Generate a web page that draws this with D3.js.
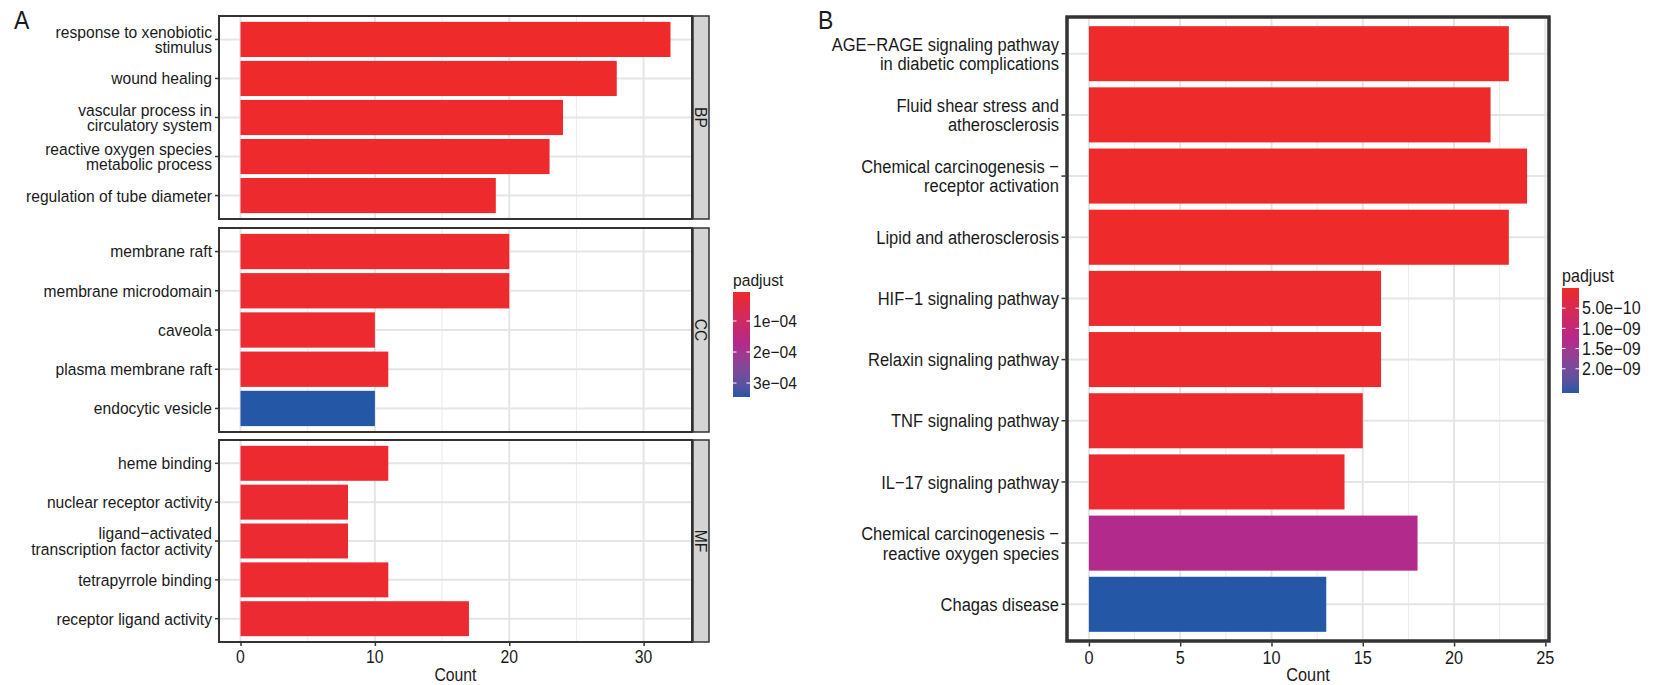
<!DOCTYPE html>
<html>
<head>
<meta charset="utf-8">
<script src="https://cdn.jsdelivr.net/npm/d3@7"></script>
<style>
  body { margin: 0; background: #fff; }
  text { font-family: "Liberation Sans", Arial, sans-serif; fill: #1a1a1a; }
</style>
</head>
<body>
<script>
// ---- panel A data (GO enrichment) ----
var goOntology = ["BP","BP","BP","BP","BP","CC","CC","CC","CC","CC","MF","MF","MF","MF","MF"];
var goTerms = [
  "response to xenobiotic\nstimulus", "wound healing", "vascular process in\ncirculatory system",
  "reactive oxygen species\nmetabolic process", "regulation of tube diameter",
  "membrane raft", "membrane microdomain", "caveola", "plasma membrane raft", "endocytic vesicle",
  "heme binding", "nuclear receptor activity", "ligand\u2212activated\ntranscription factor activity",
  "tetrapyrrole binding", "receptor ligand activity"
];
var goCounts = [32, 28, 24, 23, 19, 20, 20, 10, 11, 10, 11, 8, 8, 11, 17];
var goPadj = [6.5e-6, 7e-6, 8e-6, 8e-6, 9e-6, 1.0e-5, 1.0e-5, 1.2e-5, 1.3e-5, 3.45e-4, 1.4e-5, 1.5e-5, 1.5e-5, 1.4e-5, 1.6e-5];
var goFacets = ["BP", "CC", "MF"];
var goLegendTicks = [1e-4, 2e-4, 3e-4];
var goLegendLabels = ["1e\u221204", "2e\u221204", "3e\u221204"];

// ---- panel B data (KEGG) ----
var keggTerms = [
  "AGE\u2212RAGE signaling pathway\nin diabetic complications", "Fluid shear stress and\natherosclerosis",
  "Chemical carcinogenesis \u2212\nreceptor activation", "Lipid and atherosclerosis",
  "HIF\u22121 signaling pathway", "Relaxin signaling pathway", "TNF signaling pathway",
  "IL\u221217 signaling pathway", "Chemical carcinogenesis \u2212\nreactive oxygen species", "Chagas disease"
];
var keggCounts = [23, 22, 24, 23, 16, 16, 15, 14, 18, 13];
var keggPadj = [1e-12, 2e-12, 3e-12, 5e-12, 2e-11, 2.5e-11, 3e-11, 4e-11, 1.3e-9, 2.6e-9];
var keggLegendTicks = [5e-10, 1e-9, 1.5e-9, 2e-9];
var keggLegendLabels = ["5.0e\u221210", "1.0e\u221209", "1.5e\u221209", "2.0e\u221209"];

var RED = "#ee2a2b", PURPLE = "#b22a8c", BLUE = "#2557a7";

var svg = d3.select("body").append("svg").attr("width", 1655).attr("height", 685);

// text helper: horizontally condensed, multi-line, vertically centred on y
function label(x, y, str, size, sx, lh, anchor) {
  var lines = str.split("\n");
  var t = svg.append("text")
    .attr("transform", "translate(" + x + "," + y + ") scale(" + sx + ",1)")
    .attr("text-anchor", anchor)
    .style("font-size", size + "px");
  lines.forEach(function(l, i) {
    t.append("tspan").attr("x", 0)
      .attr("y", (i - (lines.length - 1) / 2) * lh + size * 0.35)
      .text(l);
  });
  return t;
}

function colorScale(lo, hi) {
  return d3.scaleLinear().domain([lo, (lo + hi) / 2, hi]).range([RED, PURPLE, BLUE]).interpolate(d3.interpolateLab);
}

function legend(id, x, top, bottom, lo, hi, ticks, labels, color, fs) {
  label(x, top - 12, "padjust", fs, 0.92, 0, "start");
  var grad = svg.append("defs").append("linearGradient").attr("id", id)
    .attr("x1", 0).attr("y1", 0).attr("x2", 0).attr("y2", 1);
  d3.range(0, 1.0001, 0.1).forEach(function(f) {
    grad.append("stop").attr("offset", f).attr("stop-color", color(lo + f * (hi - lo)));
  });
  svg.append("rect").attr("x", x).attr("y", top).attr("width", 17).attr("height", bottom - top)
    .attr("fill", "url(#" + id + ")");
  var ly = d3.scaleLinear().domain([lo, hi]).range([top, bottom]);
  ticks.forEach(function(v, i) {
    var y = ly(v);
    svg.append("line").attr("x1", x).attr("x2", x + 3.5).attr("y1", y).attr("y2", y).attr("stroke", "#fff");
    svg.append("line").attr("x1", x + 13.5).attr("x2", x + 17).attr("y1", y).attr("y2", y).attr("stroke", "#fff");
    label(x + 20, y, labels[i], fs, 0.92, 0, "start");
  });
}

// ================= Panel A =================
var aLeft = 219, aRight = 692;
var facetTop = [16, 228, 440], facetBottom = [219, 432, 642];
var ax = d3.scaleLinear().domain([-1.6, 33.6]).range([aLeft, aRight]);
var goLo = d3.min(goPadj), goHi = d3.max(goPadj);
var goColor = colorScale(goLo, goHi);

goFacets.forEach(function(f, fi) {
  var idx = d3.range(goTerms.length).filter(function(i) { return goOntology[i] === f; });
  var y = d3.scaleBand().domain(idx).range([facetTop[fi], facetBottom[fi]])
    .paddingInner(0.1).paddingOuter(0.15);
  var g = svg.append("g");
  // grid
  [5, 15, 25].forEach(function(v) {
    g.append("line").attr("x1", ax(v)).attr("x2", ax(v)).attr("y1", facetTop[fi]).attr("y2", facetBottom[fi])
      .attr("stroke", "#ebebeb").attr("stroke-width", 1);
  });
  [0, 10, 20, 30].forEach(function(v) {
    g.append("line").attr("x1", ax(v)).attr("x2", ax(v)).attr("y1", facetTop[fi]).attr("y2", facetBottom[fi])
      .attr("stroke", "#e5e5e5").attr("stroke-width", 2);
  });
  idx.forEach(function(i) {
    var c = y(i) + y.bandwidth() / 2;
    g.append("line").attr("x1", aLeft).attr("x2", aRight).attr("y1", c).attr("y2", c)
      .attr("stroke", "#e5e5e5").attr("stroke-width", 2);
  });
  // bars
  g.selectAll("rect.bar").data(idx).enter().append("rect").attr("class", "bar")
    .attr("x", ax(0)).attr("y", function(i) { return y(i); })
    .attr("width", function(i) { return ax(goCounts[i]) - ax(0); })
    .attr("height", y.bandwidth())
    .attr("fill", function(i) { return goColor(goPadj[i]); });
  // frame
  g.append("rect").attr("x", aLeft).attr("y", facetTop[fi]).attr("width", aRight - aLeft)
    .attr("height", facetBottom[fi] - facetTop[fi]).attr("fill", "none").attr("stroke", "#333").attr("stroke-width", 2);
  // strip
  g.append("rect").attr("x", aRight + 1).attr("y", facetTop[fi]).attr("width", 16)
    .attr("height", facetBottom[fi] - facetTop[fi]).attr("fill", "#d4d4d4").attr("stroke", "#333").attr("stroke-width", 1.5);
  svg.append("text").attr("transform", "translate(" + (aRight + 3) + "," + ((facetTop[fi] + facetBottom[fi]) / 2) + ") rotate(90) scale(0.92,1)")
    .attr("text-anchor", "middle").style("font-size", "17px").text(f);
  // y axis ticks
  var yAxis = svg.append("g").attr("transform", "translate(" + aLeft + ",0)")
    .call(d3.axisLeft(y).tickSize(4).tickFormat(""));
  yAxis.select(".domain").remove();
  yAxis.selectAll("line").attr("stroke", "#333").attr("stroke-width", 1.5);
  idx.forEach(function(i) {
    label(aLeft - 7, y(i) + y.bandwidth() / 2, goTerms[i], 17, 0.92, 15.5, "end");
  });
});

var axA = svg.append("g").attr("transform", "translate(0," + facetBottom[2] + ")")
  .call(d3.axisBottom(ax).tickValues([0, 10, 20, 30]).tickSize(4).tickFormat(""));
axA.select(".domain").remove();
axA.selectAll("line").attr("stroke", "#333").attr("stroke-width", 1.5);
[0, 10, 20, 30].forEach(function(v) { label(ax(v), 657, String(v), 17.5, 0.9, 0, "middle"); });
label((aLeft + aRight) / 2, 675, "Count", 17.5, 0.9, 0, "middle");
label(14, 20, "A", 25, 0.92, 0, "start");

legend("gradA", 733, 292, 397, goLo, goHi, goLegendTicks, goLegendLabels, goColor, 17);

// ================= Panel B =================
var bLeft = 1067, bRight = 1549, bTop = 17, bBottom = 641;
var bx = d3.scaleLinear().domain([-1.2, 25.2]).range([bLeft, bRight]);
var by = d3.scaleBand().domain(d3.range(keggTerms.length)).range([bTop, bBottom])
  .paddingInner(0.1).paddingOuter(0.15);
var kLo = 0, kHi = d3.max(keggPadj);
var kColor = colorScale(kLo, kHi);

d3.range(2.5, 25, 5).forEach(function(v) {
  svg.append("line").attr("x1", bx(v)).attr("x2", bx(v)).attr("y1", bTop).attr("y2", bBottom)
    .attr("stroke", "#ebebeb").attr("stroke-width", 1);
});
[0, 5, 10, 15, 20, 25].forEach(function(v) {
  svg.append("line").attr("x1", bx(v)).attr("x2", bx(v)).attr("y1", bTop).attr("y2", bBottom)
    .attr("stroke", "#e5e5e5").attr("stroke-width", 2);
});
keggTerms.forEach(function(t, i) {
  var c = by(i) + by.bandwidth() / 2;
  svg.append("line").attr("x1", bLeft).attr("x2", bRight).attr("y1", c).attr("y2", c)
    .attr("stroke", "#e5e5e5").attr("stroke-width", 2);
});
svg.selectAll("rect.kbar").data(keggCounts).enter().append("rect").attr("class", "kbar")
  .attr("x", bx(0)).attr("y", function(d, i) { return by(i); })
  .attr("width", function(d) { return bx(d) - bx(0); })
  .attr("height", by.bandwidth())
  .attr("fill", function(d, i) { return kColor(keggPadj[i]); });
svg.append("rect").attr("x", bLeft).attr("y", bTop).attr("width", bRight - bLeft).attr("height", bBottom - bTop)
  .attr("fill", "none").attr("stroke", "#333").attr("stroke-width", 3.5);

var yB = svg.append("g").attr("transform", "translate(" + (bLeft - 1.5) + ",0)")
  .call(d3.axisLeft(by).tickSize(4).tickFormat(""));
yB.select(".domain").remove();
yB.selectAll("line").attr("stroke", "#333").attr("stroke-width", 1.5);
keggTerms.forEach(function(t, i) {
  label(bLeft - 8, by(i) + by.bandwidth() / 2, t, 19, 0.87, 19.5, "end");
});

var axB = svg.append("g").attr("transform", "translate(0," + (bBottom + 1.5) + ")")
  .call(d3.axisBottom(bx).tickValues([0, 5, 10, 15, 20, 25]).tickSize(4).tickFormat(""));
axB.select(".domain").remove();
axB.selectAll("line").attr("stroke", "#333").attr("stroke-width", 1.5);
[0, 5, 10, 15, 20, 25].forEach(function(v) { label(bx(v), 658, String(v), 18.5, 0.88, 0, "middle"); });
label((bLeft + bRight) / 2, 675, "Count", 18.5, 0.88, 0, "middle");
label(818, 20, "B", 25, 0.92, 0, "start");

legend("gradB", 1562, 288, 393, kLo, kHi, keggLegendTicks, keggLegendLabels, kColor, 17.5);
</script>
</body>
</html>
